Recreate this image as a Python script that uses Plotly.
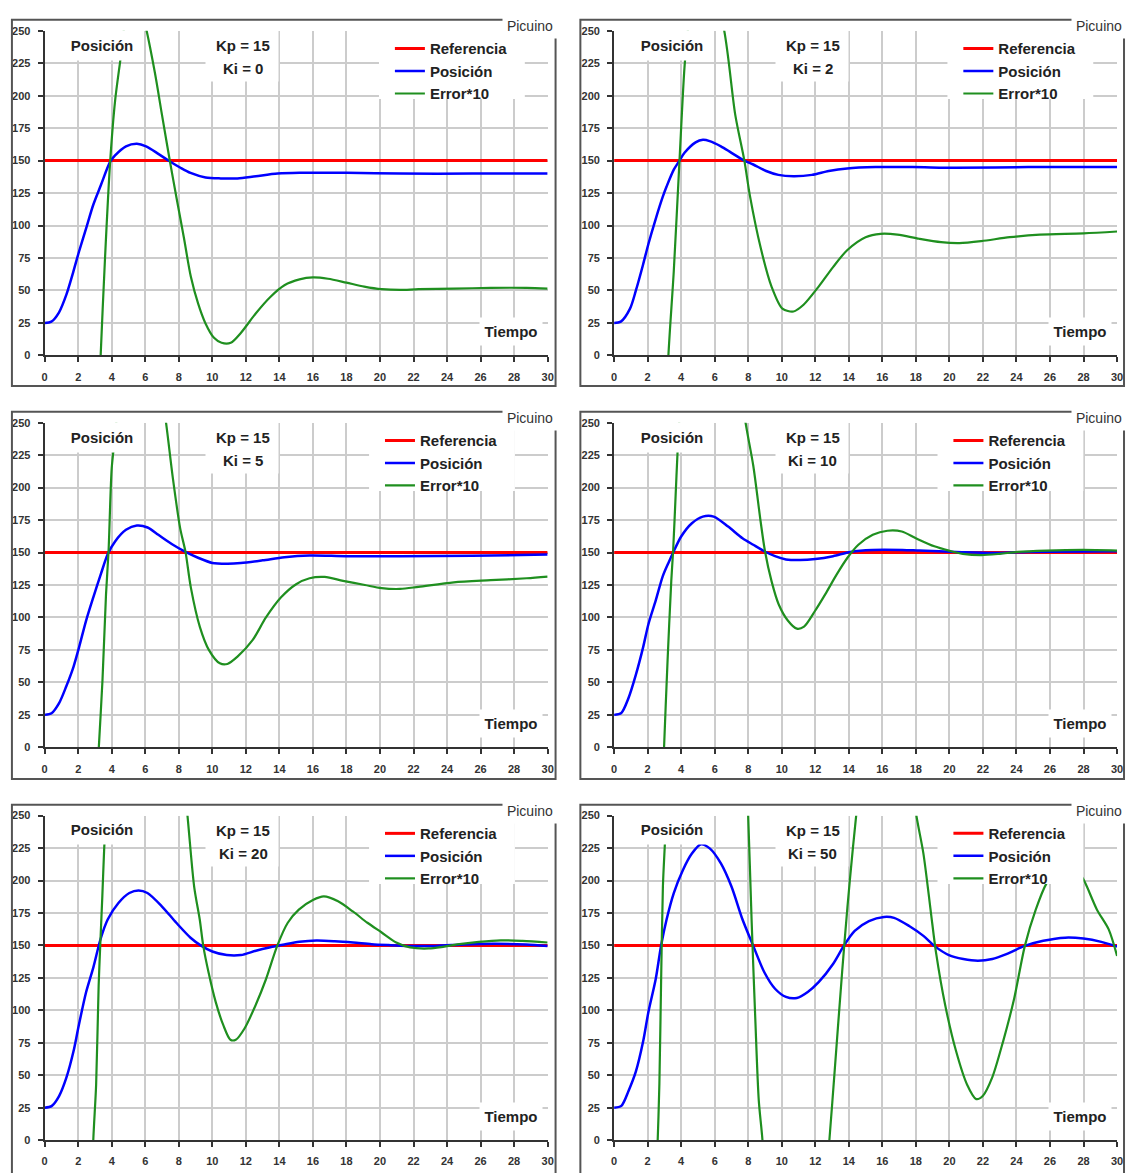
import plotly.graph_objects as go

# ---------------- data ----------------
KP = 15
KI_VALUES = [0, 2, 5, 10, 20, 50]
REFERENCE = 150
REF_T = [0, 30]
X_TICKS = list(range(0, 31, 2))
Y_TICKS = list(range(0, 251, 25))
SERIES_NAMES = ["Referencia", "Posición", "Error*10"]

# Ki = 0
pos_t_ki0 = [0, 0.4, 0.85, 1.3, 1.7, 2.05, 2.5, 2.9, 3.35, 3.9, 4.2, 4.85, 5.5, 6.05, 6.8, 7.45, 8.1, 8.7,
             9.6, 10.5, 11.5, 12.6, 13.9, 15.2, 18.0, 21.2, 25.5, 30]
pos_ki0 = [25, 26, 33, 47, 64, 80, 99, 116, 131, 149, 154, 161, 163, 161, 155, 149.5, 144.5, 140.5,
           137, 136.3, 136.3, 138, 140, 140.6, 140.6, 140, 140, 140]
err_t_ki0 = [0, 1, 2, 2.5, 3.0, 3.34, 3.6, 3.9, 4.2, 4.52, 4.85, 5.5, 6.03, 6.57, 7.0, 7.47, 7.86, 8.3, 8.72,
             9.15, 9.58, 10.1, 10.55, 11.1, 11.7, 12.6, 13.46, 14.3, 15.2, 16.0, 16.9, 18.0, 19.06, 20.1,
             21.2, 22.3, 24.4, 26.6, 28.75, 30]
err_ki0 = [-1100, -900, -550, -300, -110, 0, 75, 148, 196, 228, 260, 280, 253, 218, 185, 149.5, 121.6, 91,
           60.5, 40, 25, 13.5, 9.7, 9.7, 17.3, 32.5, 45, 54, 58.5, 60, 59, 56, 53, 51, 50.4, 51, 51.4, 52,
           52, 51.4]

# Ki = 2
pos_t_ki2 = [0, 0.4, 0.95, 1.3, 1.73, 2.05, 2.48, 2.9, 3.13, 3.56, 3.9, 4.2, 4.86, 5.3, 5.7, 6.37, 7.0,
             7.77, 8.3, 9.07, 9.8, 10.7, 11.8, 12.8, 13.9, 15.6, 17.8, 20.4, 24.7, 30]
pos_ki2 = [25, 26, 36, 50, 70, 86, 105, 122, 130, 143, 150, 156, 164, 166, 165, 161, 156, 150, 147, 142,
           139, 138, 139, 142, 144, 145, 145, 144.5, 145, 145]
err_t_ki2 = [0, 1, 2, 2.5, 3.0, 3.24, 3.56, 3.9, 4.2, 4.42, 5.3, 6.54, 7.23, 7.77, 8.1, 8.74, 9.39, 10.04,
             10.7, 11.3, 12.2, 13.06, 13.9, 15.0, 15.9, 16.9, 18.2, 19.5, 20.6, 21.9, 23.6, 25.4, 28, 30]
err_ki2 = [-1100, -900, -500, -300, -80, 0, 65, 150, 222, 252, 310, 252, 185, 150, 123, 83, 53, 36, 33.8,
           39, 53, 68, 81, 91, 93.6, 93, 89.8, 87.2, 86.5, 88, 91, 93, 94, 95.4]

# Ki = 5
pos_t_ki5 = [0, 0.43, 0.86, 1.29, 1.72, 2.05, 2.48, 2.9, 3.34, 3.77, 4.2, 4.85, 5.5, 6.14, 6.78, 7.65, 8.4,
             9.15, 10.0, 10.9, 11.7, 13.0, 14.3, 15.8, 18.0, 21.2, 25.5, 30]
pos_ki5 = [25, 26.5, 34, 47, 62, 77, 98, 115.5, 133, 149, 158.6, 167.5, 170.8, 169.3, 163.7, 156, 150.5,
           146, 142, 141.4, 141.9, 144, 146.4, 147.7, 147.2, 147.2, 147.5, 148.5]
err_t_ki5 = [0, 1, 2, 2.5, 2.95, 3.23, 3.45, 3.66, 3.81, 4.0, 4.2, 4.85, 5.5, 6.14, 6.78, 7.2, 7.65, 8.08,
             8.4, 8.72, 9.26, 9.8, 10.45, 10.9, 11.5, 12.4, 13.2, 14.1, 15.0, 15.8, 16.7, 17.8, 19.1, 20.1,
             21.2, 22.3, 24.4, 26.6, 28.75, 30]
err_ki5 = [-1100, -900, -500, -250, -70, 0, 52, 118, 151, 215, 240, 325, 358, 343, 287, 253.8, 206.9,
           168.8, 150.5, 123, 92.6, 74.9, 64.7, 64.2, 69.8, 82.5, 100, 115.5, 125.6, 130.2, 131.2, 128.2,
           125, 122.6, 122, 123.6, 127, 128.7, 130.2, 131.5]

# Ki = 10
pos_t_ki10 = [0, 0.43, 0.86, 1.3, 1.73, 2.05, 2.48, 2.91, 3.24, 3.56, 4.0, 4.64, 5.29, 5.94, 6.8, 7.66, 8.3,
              8.96, 9.6, 10.25, 11.1, 12.0, 13.06, 14.1, 15.4, 17.2, 18.2, 20.4, 22.6, 24.7, 30]
pos_ki10 = [25, 26.5, 38, 56, 77, 95, 113, 132, 142, 151, 162.4, 172.6, 177.7, 177.7, 170, 161, 156, 151,
            147.2, 144.7, 144.2, 145, 147.2, 150.5, 152, 152, 151.5, 150.5, 149.7, 150.5, 151]
err_t_ki10 = [0, 1, 2, 2.5, 2.75, 2.98, 3.19, 3.41, 3.52, 3.67, 3.78, 3.89, 4.64, 5.5, 6.8, 7.81, 8.3, 8.74,
              9.0, 9.39, 9.82, 10.36, 10.9, 11.33, 11.98, 12.6, 13.27, 13.92, 14.57, 15.43, 16.3, 17.16,
              18.0, 19.1, 19.97, 20.8, 21.9, 23.0, 24.07, 25.8, 27.95, 30]
err_ki10 = [-1100, -900, -400, -200, -80, 0, 67, 128, 151, 194, 225.9, 252, 370, 420, 350, 252.5, 217,
            173.9, 151, 128, 110, 97.7, 91.4, 93, 105, 118, 133, 146, 156, 163.7, 166.8, 166.2, 161, 154.8,
            151.5, 149, 148, 149, 150.5, 151.5, 152, 151.5]

# Ki = 20
pos_t_ki20 = [0, 0.43, 0.86, 1.29, 1.72, 2.04, 2.47, 2.9, 3.33, 3.76, 4.4, 5.05, 5.6, 6.13, 7.0, 7.85, 8.7,
              9.35, 10.0, 10.86, 11.7, 12.6, 13.4, 14.3, 15.2, 16.2, 17.3, 18.4, 19.5, 20.5, 21.6, 23.3,
              25.05, 26.8, 28.7, 30]
pos_ki20 = [25, 26.5, 34, 48, 68.5, 88.8, 114, 133, 154.8, 170, 182.7, 190.4, 192.4, 190.4, 180, 167.5,
            156, 149.7, 145.4, 142.6, 142.6, 146, 148.5, 150.8, 152.8, 153.8, 153.3, 152.3, 151, 150.3,
            149.7, 149.7, 150.8, 151.3, 150.8, 149.7]
err_t_ki20 = [0, 1, 2, 2.5, 2.75, 2.9, 3.07, 3.22, 3.33, 3.44, 3.55, 3.66, 4.4, 5.6, 7.0, 8.5, 8.92, 9.25,
              9.46, 9.78, 10.2, 10.65, 11.08, 11.4, 11.93, 12.58, 13.2, 13.87, 14.5, 15.16, 16.0, 16.65,
              17.5, 18.4, 19.25, 20.1, 20.97, 21.8, 22.9, 23.76, 24.6, 25.9, 27.2, 28.5, 30]
err_ki20 = [-1100, -900, -450, -200, -70, 0, 43, 119, 154.8, 188, 224.6, 251, 480, 570, 450, 252.5, 195,
            170, 149.7, 129, 106.6, 88.8, 77.4, 77.4, 86.3, 104, 124, 149.7, 167.5, 177.6, 185, 187.8, 184,
            176, 167.5, 160, 152.3, 148.5, 147.7, 149, 150.8, 152.8, 154, 153.5, 152.3]

# Ki = 50
pos_t_ki50 = [0, 0.43, 0.86, 1.3, 1.73, 2.05, 2.48, 2.8, 3.13, 3.56, 4.1, 4.64, 5.18, 5.72, 6.37, 7.0, 7.66,
              8.3, 8.96, 9.6, 10.25, 10.9, 11.55, 12.2, 13.06, 13.7, 14.35, 15.2, 16.1, 16.7, 17.6, 18.45,
              19.1, 19.97, 20.83, 21.7, 22.56, 23.4, 24.5, 25.6, 26.9, 28, 29.06, 30]
pos_ki50 = [25, 26.5, 38, 53, 76, 99, 124, 149.7, 170, 190.4, 208, 220.8, 228, 224.6, 213.2, 195.4, 170,
            149.7, 129.4, 116.7, 110.4, 109.6, 114.2, 121.8, 135.8, 149.7, 161.2, 168.8, 172, 171.3, 165,
            157.4, 149.7, 142.6, 139.6, 138.3, 139.6, 143.4, 149.7, 153.6, 156, 155.3, 152.8, 149.2]
err_t_ki50 = [0, 1, 2, 2.3, 2.6, 2.7, 2.8, 2.91, 3.02, 3.15, 4.1, 5.18, 6.37, 7.0, 7.66, 7.99, 8.2, 8.42,
              8.63, 8.85, 9.2, 10.25, 10.9, 11.55, 12.5, 12.84, 13.17, 13.6, 13.92, 14.25, 14.46, 15.2,
              16.1, 16.7, 17.6, 18.0, 18.45, 18.9, 19.2, 19.75, 20.4, 21.05, 21.6, 22.0, 22.55, 23.2,
              23.86, 24.5, 25.15, 25.8, 26.1, 26.9, 27.5, 27.95, 28.8, 29.5, 30]
err_ki50 = [-1100, -950, -400, -100, 0, 43, 119, 195, 225.9, 258, 730, 930, 780, 600, 350, 252.5, 170, 94,
            30.5, 0, -80, -250, -254, -210, -50, 0, 55.8, 129.4, 180, 225.9, 252.5, 338, 370, 363, 300,
            252.5, 220.8, 175, 144.7, 104, 68.5, 43, 31.7, 34.3, 48.2, 76, 109, 149.7, 177.6, 198, 203,
            210, 208, 201.8, 177.6, 162.4, 142]

POS_T = [pos_t_ki0, pos_t_ki2, pos_t_ki5, pos_t_ki10, pos_t_ki20, pos_t_ki50]
POS = [pos_ki0, pos_ki2, pos_ki5, pos_ki10, pos_ki20, pos_ki50]
ERR_T = [err_t_ki0, err_t_ki2, err_t_ki5, err_t_ki10, err_t_ki20, err_t_ki50]
ERR = [err_ki0, err_ki2, err_ki5, err_ki10, err_ki20, err_ki50]

# ---------------- layout geometry (page pixels) ----------------
W, H = 1131, 1173
FONT = "Liberation Sans, Arial, sans-serif"
COL_PLOT = [(42, 549), (616, 1123)]
ROW_PLOT = [(25, 353), (421, 749), (818, 1146)]
COL_FRAME = [(9, 557), (582, 1130)]
ROW_FRAME = [(14, 384), (410, 781), (807, 1185)]
COL_DX = [0, 574]
ROW_DY = [0, 396, 793]
LEGEND_SAMPLE_X = [395, 968, 385, 958, 385, 958]

RED, BLUE, GREEN = "#ff0000", "#0000ff", "#1f8f1f"
GRID = "#cccccc"
AXIS = "#333333"


def px(x):
    return x / W


def py(y):
    return 1 - y / H


fig = go.Figure()
layout = dict(width=W, height=H, margin=dict(l=0, r=0, t=0, b=0), autosize=False,
              paper_bgcolor="white", plot_bgcolor="white", showlegend=True)
annotations = []
shapes = []


def text_ann(text, cx, cy, size=15, bold=True, bg=None, w=None, h=None, color="#222"):
    a = dict(text=text, x=px(cx), y=py(cy), xref="paper", yref="paper", xanchor="center",
             yanchor="middle", showarrow=False, borderpad=0,
             font=dict(family=FONT, size=size, color=color, weight="bold" if bold else "normal"))
    if bg:
        a["bgcolor"] = bg
    if w:
        a["width"] = w
    if h:
        a["height"] = h
    annotations.append(a)


for i in range(6):
    r, c = divmod(i, 2)
    n = i + 1
    sfx = "" if n == 1 else str(n)
    xa, ya = "x" + sfx, "y" + sfx
    leg = "legend" + sfx
    (x0, x1), (y0, y1) = COL_PLOT[c], ROW_PLOT[r]
    axis_common = dict(showgrid=True, gridcolor=GRID, gridwidth=2, showline=True, linecolor=AXIS,
                       linewidth=2, ticks="outside", ticklen=5, tickwidth=2, tickcolor=AXIS,
                       tickfont=dict(family=FONT, size=11, color="#333", weight="bold"),
                       zeroline=False, fixedrange=True)
    layout["xaxis" + sfx] = dict(domain=[px(x0), px(x1)], range=[0, 30], tickvals=X_TICKS,
                                 anchor=ya, ticklabelstandoff=5, **axis_common)
    layout["yaxis" + sfx] = dict(domain=[py(y1), py(y0)], range=[0, 250], tickvals=Y_TICKS,
                                 anchor=xa, ticklabelstandoff=5, **axis_common)

    fig.add_trace(go.Scatter(x=REF_T, y=[REFERENCE] * len(REF_T), mode="lines", name=SERIES_NAMES[0],
                             line=dict(color=RED, width=3), xaxis=xa, yaxis=ya, legend=leg))
    fig.add_trace(go.Scatter(x=POS_T[i], y=POS[i], mode="lines", name=SERIES_NAMES[1],
                             line=dict(color=BLUE, width=2.5, shape="spline", smoothing=0.8),
                             xaxis=xa, yaxis=ya, legend=leg))
    fig.add_trace(go.Scatter(x=ERR_T[i], y=ERR[i], mode="lines", name=SERIES_NAMES[2],
                             line=dict(color=GREEN, width=2.2, shape="spline", smoothing=0.8),
                             xaxis=xa, yaxis=ya, legend=leg))

    dx, dy = COL_DX[c], ROW_DY[r]
    lx = LEGEND_SAMPLE_X[i]

    # panel frame
    fx0, fx1 = COL_FRAME[c]
    fy0, fy1 = ROW_FRAME[r]
    shapes.append(dict(type="rect", xref="paper", yref="paper", x0=px(fx0), x1=px(fx1),
                       y0=py(fy1), y1=py(fy0), line=dict(color="#555", width=2), layer="above"))
    # white area behind the legend
    shapes.append(dict(type="rect", xref="paper", yref="paper", x0=px(lx - 16), x1=px(lx + 131),
                       y0=py(y0 + 69), y1=py(y0), fillcolor="white", line=dict(width=0),
                       layer="above"))

    layout[leg] = dict(x=px(lx - 5), y=py(26.5 + dy), xanchor="left", yanchor="top",
                       bgcolor="rgba(255,255,255,0)", borderwidth=0, itemwidth=30,
                       font=dict(family=FONT, size=15, color="#222", weight="bold"))

    text_ann("Posición", 100 + dx, 39.5 + dy, bg="white", w=76, h=29)
    text_ann(" ", 241 + dx, 49 + dy, bg="white", w=72, h=54)
    text_ann(f"Kp = {KP}", 242 + dx, 40 + dy)
    text_ann(f"Ki = {KI_VALUES[i]}", 242 + dx, 63 + dy)
    text_ann("Tiempo", 512 + dx, 328.5 + dy, bg="white", w=62, h=27)
    text_ann("Picuino", 531 + dx, 20 + dy, size=14, bold=False, bg="white", w=54, h=24, color="#333")

layout["annotations"] = annotations
layout["shapes"] = shapes
fig.update_layout(**layout)
# remove the default 8px body margin so the figure fills the page exactly
fig.write_html("out.html", config={"displayModeBar": False},
               post_script="document.body.style.margin='0px';")
